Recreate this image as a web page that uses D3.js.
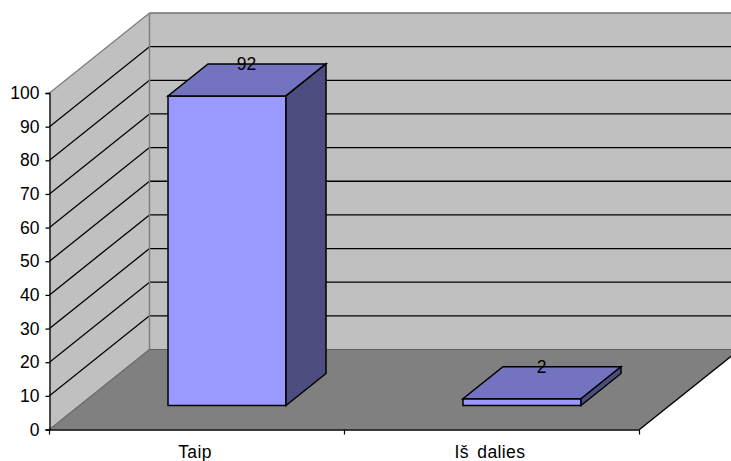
<!DOCTYPE html>
<html><head><meta charset="utf-8">
<script src="https://cdn.jsdelivr.net/npm/d3@7"></script>
<style>html,body{margin:0;background:#fff}svg{display:block}text{font-family:"Liberation Sans",Arial,sans-serif;fill:#000}</style>
</head><body><svg id="c" width="731" height="461"></svg>
<script>
const categories = ["Taip", "Iš dalies"];
const values = [92, 2];
const yTicks = [0,10,20,30,40,50,60,70,80,90,100];

const svg = d3.select("#c");
const x = d3.scaleBand().domain(categories).range([49.5,639.5]);
const y = d3.scaleLinear().domain([0,100]).range([429.5,93]);
const z = d3.scaleLinear().domain([0,1]).range([0,1]);
const DX = 100, DY = -80;
const W = 731;
const px = (xv,d)=>xv+z(d)*DX;
const py = (yv,d)=>yv+z(d)*DY;
const poly = (pts,fill,stroke,sw)=>svg.append("polygon")
  .attr("points",pts.map(p=>p.join(",")).join(" "))
  .attr("fill",fill).attr("stroke",stroke||"none").attr("stroke-width",sw||0).attr("stroke-linejoin","miter");
const line=(x1,y1,x2,y2,c,w)=>svg.append("line").attr("x1",x1).attr("y1",y1).attr("x2",x2).attr("y2",y2).attr("stroke",c).attr("stroke-width",w||1);

const x0=x.range()[0], x1=x.range()[1], yb=y(0), yt=y(100);
poly([[px(x0,1),py(yt,1)],[px(x1,1),py(yt,1)],[px(x1,1),py(yb,1)],[px(x0,1),py(yb,1)]],"#C0C0C0");
poly([[x0,yt],[px(x0,1),py(yt,1)],[px(x0,1),py(yb,1)],[x0,yb]],"#C0C0C0");
poly([[x0,yb],[x1,yb],[px(x1,1),py(yb,1)],[px(x0,1),py(yb,1)]],"#808080");
yTicks.filter(t=>t>0&&t<100).forEach(t=>{
  line(x0,y(t),px(x0,1),py(y(t),1),"#000",1.3);
  line(px(x0,1),py(y(t),1),W,py(y(t),1),"#000",1.3);
});
line(x0,yt,px(x0,1),py(yt,1),"#808080",1.5);
line(px(x0,1),py(yt,1),W,py(yt,1),"#707070",1.5);
line(px(x0,1),py(yt,1),px(x0,1),py(yb,1),"#808080",1.5);
line(x0,yb,px(x0,1),py(yb,1),"#6a6a6a",1.5);
line(px(x0,1),py(yb,1),W,py(yb,1),"#606060",1.2);
line(x1,yb,px(x1,1),py(yb,1),"#000",1.4);

const zFront=0.3, zBack=0.7, barFrac=0.4;
categories.forEach((c,i)=>{
  const bw=x.bandwidth()*barFrac;
  const l=x(c)+(x.bandwidth()-bw)/2, r=l+bw;
  const t=y(values[i]);
  const off=(xv,yv,d)=>[px(xv,d),py(yv,d)];
  const sw=1.5;
  poly([off(l,yb,zFront),off(r,yb,zFront),off(r,t,zFront),off(l,t,zFront)],"#9999FF","#000",sw);
  poly([off(l,t,zFront),off(r,t,zFront),off(r,t,zBack),off(l,t,zBack)],"#7373BF","#000",sw);
  poly([off(r,yb,zFront),off(r,yb,zBack),off(r,t,zBack),off(r,t,zFront)],"#4D4D80","#000",sw);
  svg.append("text").attr("x",px(l+bw/2,0.5)-0.5).attr("y",py(t,zBack))
    .attr("dy","0.35em").attr("text-anchor","middle").attr("font-size",17.5).text(values[i]);
});

const yAxis=d3.axisLeft(y).tickValues(yTicks).tickSize(4).tickPadding(6);
const gy=svg.append("g").attr("transform",`translate(${x0},0)`).call(yAxis);
gy.attr("font-family",null);
gy.selectAll("text").attr("font-size",17.5).style("fill","#000");
gy.selectAll("path,line").attr("stroke","#000").attr("stroke-width",1.3);
const gx=svg.append("g").attr("transform",`translate(0,${yb})`)
  .call(d3.axisBottom(x).tickSize(0).tickPadding(16));
gx.attr("font-family",null);
gx.selectAll("text").attr("font-size",17.5).style("fill","#000").attr("word-spacing",3).attr("letter-spacing",0.4).attr("dx",-2);
gx.select("path").attr("stroke","#000").attr("stroke-width",1.3);
[x0,x0+x.bandwidth(),x1].forEach(v=>line(v,yb,v,yb+5,"#000",1.2));
</script></body></html>
